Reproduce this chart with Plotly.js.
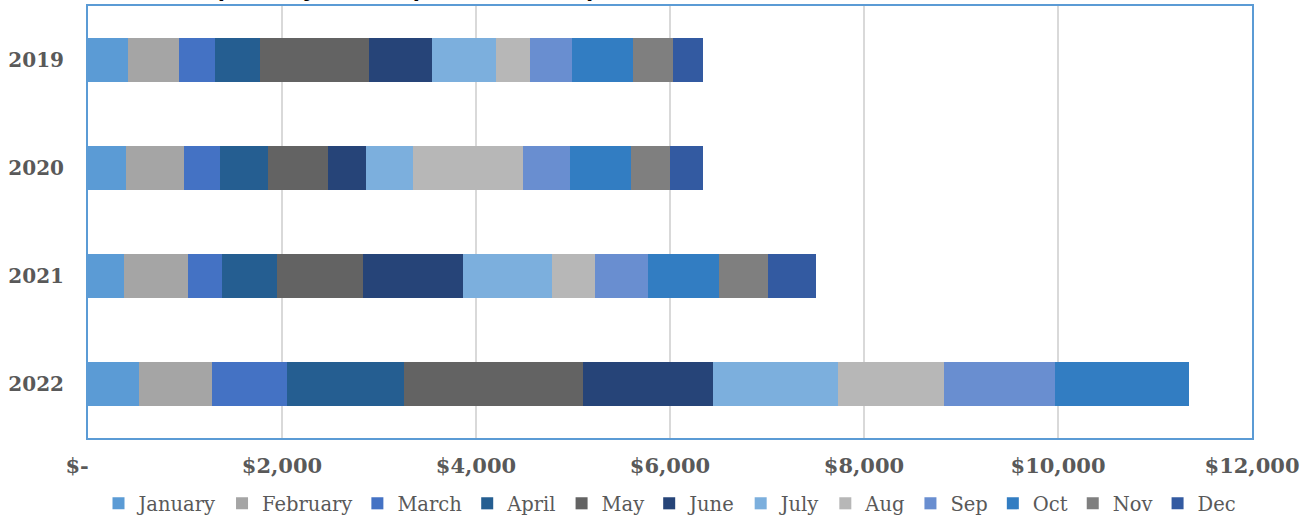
<!DOCTYPE html>
<html>
<head>
<meta charset="utf-8">
<script src="https://cdn.plot.ly/plotly-3.0.1.min.js"></script>
<style>
  html, body { margin: 0; padding: 0; background: #ffffff; }
  #chart { width: 1303px; height: 518px; }
</style>
</head>
<body>
<div id="chart"></div>
<script>
// Categories (years, top to bottom)
const years = ["2019", "2020", "2021", "2022"];

// Month series names
const months = ["January", "February", "March", "April", "May", "June",
                "July", "Aug", "Sep", "Oct", "Nov", "Dec"];

// Values per month, one array per month, ordered as years above
const January  = [415, 390, 376, 524];
const February = [519, 595, 658, 757];
const March    = [377, 373, 346, 770];
const April    = [458, 501, 573, 1207];
const May      = [1126, 612, 881, 1850];
const June     = [655, 398, 1028, 1335];
const July     = [660, 484, 925, 1286];
const Aug      = [342, 1127, 440, 1098];
const Sep      = [433, 488, 544, 1139];
const Oct      = [638, 634, 732, 1389];
const Nov      = [403, 402, 510, 0];
const Dec      = [312, 334, 497, 0];

const seriesValues = [January, February, March, April, May, June, July, Aug, Sep, Oct, Nov, Dec];

const colors = ["#5B9BD5", "#A5A5A5", "#4472C4", "#255E91", "#636363", "#264478",
                "#7CAFDD", "#B7B7B7", "#698ED0", "#327DC2", "#7F7F7F", "#335AA1"];

// Axis ticks
const xTickVals = [0, 2000, 4000, 6000, 8000, 10000, 12000];
const xTickText = ["$-   ", "$2,000", "$4,000", "$6,000", "$8,000", "$10,000", "$12,000"];

const titleText = "Total Spend by Month (in Thousands)";

const traces = months.map((m, i) => ({
  type: "bar",
  orientation: "h",
  name: m,
  y: years,
  x: seriesValues[i],
  marker: { color: colors[i], line: { width: 0 } },
  hoverinfo: "x+name"
}));

const layout = {
  width: 1303,
  height: 518,
  margin: { l: 88, r: 51, t: 6, b: 80, autoexpand: false },
  paper_bgcolor: "#ffffff",
  plot_bgcolor: "#ffffff",
  barmode: "stack",
  bargap: 0.6,
  showlegend: true,
  legend: {
    orientation: "h",
    traceorder: "normal",
    x: 0.5,
    xanchor: "center",
    y: -0.152,
    yanchor: "middle",
    font: { family: "DejaVu Serif", size: 19.5, color: "#595959" },
    itemwidth: 30,
    tracegroupgap: 0
  },
  xaxis: {
    range: [0, 12000],
    tickvals: xTickVals,
    ticktext: xTickText,
    tickfont: { family: "DejaVu Serif", size: 21, color: "#595959", weight: "bold" },
    showgrid: true,
    gridcolor: "#D9D9D9",
    gridwidth: 2,
    zeroline: false,
    showline: true,
    mirror: true,
    linecolor: "#5B9BD5",
    linewidth: 2,
    ticks: "",
    ticklabelstandoff: 8,
    automargin: false,
    fixedrange: true
  },
  yaxis: {
    type: "category",
    categoryorder: "array",
    categoryarray: years,
    autorange: "reversed",
    tickfont: { family: "DejaVu Serif", size: 20, color: "#595959", weight: "bold" },
    showgrid: false,
    zeroline: false,
    showline: true,
    mirror: true,
    linecolor: "#5B9BD5",
    linewidth: 2,
    ticks: "",
    ticklabelstandoff: 18,
    automargin: false,
    fixedrange: true
  },
  annotations: [{
    text: titleText,
    xref: "paper",
    yref: "paper",
    x: 131 / 1164 - 88 / 1164,
    xanchor: "left",
    y: 1,
    yanchor: "bottom",
    yshift: 2,
    showarrow: false,
    font: { family: "Liberation Sans", size: 26, color: "#000000", weight: "bold" }
  }]
};

Plotly.newPlot("chart", traces, layout, { displayModeBar: false, staticPlot: true });
</script>
</body>
</html>
